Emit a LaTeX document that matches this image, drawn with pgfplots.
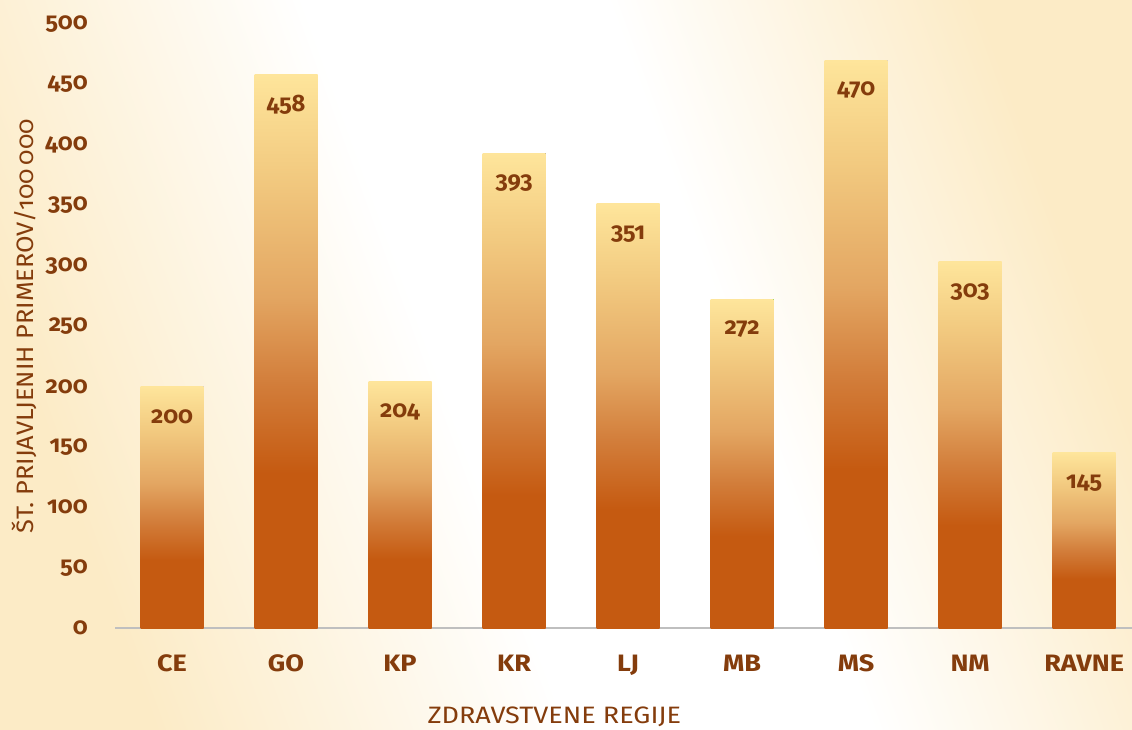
\documentclass[border=0pt]{standalone}
\usepackage{pgfplots}
\pgfplotsset{compat=1.18}
\usepackage{fontspec}
\setmainfont{Fira Sans}[Numbers=OldStyle]
\newfontfamily\catfont{Fira Sans}[Numbers=OldStyle, FakeStretch=1.14]
\newfontfamily\ylabfont{Fira Sans}[Numbers=OldStyle, FakeStretch=1.07]
\definecolor{txtbrown}{HTML}{843C0C}
\definecolor{bardark}{HTML}{C55A11}
\definecolor{barmid1}{HTML}{D27D3A}
\definecolor{barmid2}{HTML}{E3A662}
\definecolor{barmid3}{HTML}{F2CA80}
\definecolor{barlight}{HTML}{FEE59B}
\definecolor{creamA}{HTML}{FCEBC6}
\definecolor{creamB}{HTML}{FDF1D6}
\pgfdeclareverticalshading{barshade}{100bp}{color(0bp)=(bardark); color(25bp)=(bardark); color(39bp)=(bardark); color(47bp)=(barmid1); color(55bp)=(barmid2); color(66bp)=(barmid3); color(75bp)=(barlight); color(100bp)=(barlight)}
\pgfdeclarehorizontalshading{bgshade}{100bp}{color(0bp)=(creamA); color(25bp)=(creamA); color(44bp)=(white); color(58bp)=(white); color(75bp)=(creamA); color(100bp)=(creamA)}
\begin{document}
\begin{tikzpicture}
\useasboundingbox (0,0) rectangle (22.64cm,14.58cm);
\fill[creamB] (0,0) rectangle (22.64cm,14.58cm);
\shade[shading=bgshade, shading angle=20] (0,0) rectangle (22.64cm,14.58cm);
\begin{axis}[
  at={(2.30cm,2.02cm)}, anchor=south west,
  scale only axis, width=20.34cm, height=12.08cm,
  xmin=-0.5, xmax=8.42, ymin=0, ymax=500,
  axis x line*=bottom, axis y line*=left,
  x axis line style={draw=black!25, line width=1.2pt, -},
  y axis line style={draw=none},
  ytick={0,50,...,500}, xtick={0,...,8},
  xticklabels={CE,GO,KP,KR,LJ,MB,MS,NM,RAVNE},
  major tick length=0pt,
  tick style={draw=none},
  clip=false,
  /pgf/number format/assume math mode=true,
  yticklabel style={font=\fontsize{13.5}{15}\selectfont\bfseries, text=txtbrown, anchor=east, inner sep=0pt, xshift=-0.54cm},
  xticklabel style={font=\catfont\fontsize{13.5}{15}\selectfont\bfseries, text=txtbrown, anchor=base, inner sep=0pt, yshift=-0.86cm},
  xlabel={ZDRAVSTVENE REGIJE},
  xlabel style={font=\catfont\fontsize{13.5}{15}\selectfont, text=txtbrown, at={(axis description cs:0.432,0)}, anchor=center, yshift=-1.78cm},
  ylabel={ŠT. PRIJAVLJENIH PRIMEROV/100\,000},
  ylabel style={font=\ylabfont\fontsize{13.5}{15}\selectfont, text=txtbrown, at={(axis description cs:0,0.5)}, anchor=center, yshift=1.82cm},
  ybar, bar width=1.26cm,
  every axis plot/.append style={draw=none, shading=barshade, bar shift=0pt},
  nodes near coords,
  nodes near coords style={font=\fontsize{13.5}{15}\selectfont\bfseries, text=txtbrown, anchor=center, yshift=-0.60cm},
]
\addplot coordinates {(0,200)};
\addplot coordinates {(1,458)};
\addplot coordinates {(2,204)};
\addplot coordinates {(3,393)};
\addplot coordinates {(4,351)};
\addplot coordinates {(5,272)};
\addplot coordinates {(6,470)};
\addplot coordinates {(7,303)};
\addplot coordinates {(8,145)};
\end{axis}
\end{tikzpicture}
\end{document}
